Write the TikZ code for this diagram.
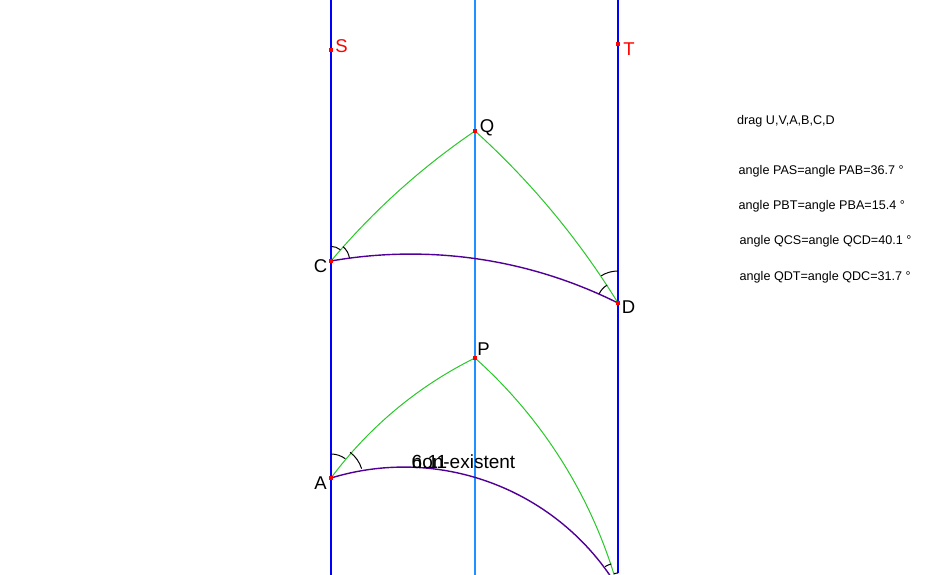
\documentclass[tikz,border=0pt]{standalone}
\usepackage{fontspec}
\setmainfont{Liberation Sans}
\definecolor{midblue}{RGB}{30,144,255}
\definecolor{geogreen}{RGB}{40,200,40}
\definecolor{purp}{RGB}{80,0,150}
\begin{document}
\begin{tikzpicture}[x=1pt,y=-1pt,
  dot/.style={fill=red, inner sep=0pt, minimum size=3.8pt, draw=none, rectangle},
  lbl/.style={font=\fontsize{18.5}{18.5}\selectfont, inner sep=0pt},
  info/.style={font=\fontsize{12.6}{12.6}\selectfont, inner sep=0pt, anchor=base west},
  bigtxt/.style={font=\fontsize{19}{19}\selectfont, inner sep=0pt, anchor=base west},
  bline/.style={blue, line width=1.1pt},
  mline/.style={color=midblue, line width=1.1pt},
  geo/.style={color=geogreen, line width=1pt},
  basecurve/.style={color=purp, line width=1.4pt},
  anglemark/.style={black, line width=1pt}]
\useasboundingbox (0,0) rectangle (932,575);
\fill[white] (0,0) rectangle (932,575);
\begin{scope}
\clip (0,0) rectangle (932,575);
% points
\coordinate (Ltop) at (331,-1);
\coordinate (Lbot) at (331,576);
\coordinate (Mtop) at (475,-1);
\coordinate (Mbot) at (475,576);
\coordinate (Rtop) at (618,-1);
\coordinate (Rbot) at (618,573);
\coordinate (B) at (618,588);
% vertical lines
\draw[bline] (Ltop) -- (Lbot);
\draw[bline] (Rtop) -- (Rbot);
\draw[mline] (Mtop) -- (Mbot);
% dots
\node[dot] (S) at (331,50) {};
\node[dot] (T) at (618,44) {};
\node[dot] (Q) at (475,131) {};
\node[dot] (C) at (331,261) {};
\node[dot] (D) at (618,303) {};
\node[dot] (P) at (475,358) {};
\node[dot] (A) at (331,478) {};
% geodesic arcs
\draw[basecurve] (A.center) arc[start angle=-106.99, end angle=-31.08, radius=249.9];
\draw[geo] (A.center) arc[start angle=-143.35, end angle=-116.27, radius=400.4];
\draw[geo] (P.center) arc[start angle=-48.21, end angle=-15.54, radius=481.5];
\draw[geo] (C.center) arc[start angle=-139.94, end angle=-124.21, radius=708.5];
\draw[geo] (Q.center) arc[start angle=-47.88, end angle=-31.60, radius=790.1];
\draw[basecurve] (C.center) arc[start angle=-99.93, end angle=-63.41, radius=462.9];
% angle marks
\draw[anglemark] (A.center) ++(-90:24) arc[start angle=-90, end angle=-53.35, radius=24];
\draw[anglemark] (A.center) ++(-53.35:32) arc[start angle=-53.35, end angle=-17.0, radius=32];
\draw[anglemark] (C.center) ++(-90:14.6) arc[start angle=-90, end angle=-49.94, radius=14.6];
\draw[anglemark] (C.center) ++(-49.94:18.7) arc[start angle=-49.94, end angle=-9.93, radius=18.7];
\draw[anglemark] (D.center) ++(-90:32) arc[start angle=-90, end angle=-121.6, radius=32];
\draw[anglemark] (D.center) ++(-121.6:21) arc[start angle=-121.6, end angle=-153.41, radius=21];
\draw[anglemark] (B) ++(-90:15) arc[start angle=-90, end angle=-105.54, radius=15];
\draw[anglemark] (B) ++(-105.54:25) arc[start angle=-105.54, end angle=-121.08, radius=25];
% redraw dots on top
\fill[red] (S.south west) rectangle (S.north east);
\fill[red] (T.south west) rectangle (T.north east);
\fill[red] (Q.south west) rectangle (Q.north east);
\fill[red] (C.south west) rectangle (C.north east);
\fill[red] (D.south west) rectangle (D.north east);
\fill[red] (P.south west) rectangle (P.north east);
\fill[red] (A.south west) rectangle (A.north east);
% point labels
\node[lbl, red] (Slbl) at (341.5,46) {S};
\node[lbl, red] (Tlbl) at (629,49) {T};
\node[lbl] (Qlbl) at (487,127.5) {Q};
\node[lbl] (Clbl) at (320.5,266) {C};
\node[lbl] (Dlbl) at (628.5,307.5) {D};
\node[lbl] (Plbl) at (483.5,349) {P};
\node[lbl] (Albl) at (320.5,483) {A};
% overlapping texts
\node[bigtxt] (nonex) at (411.5,468.5) {non-existent};
\node[bigtxt] (num) at (411.5,468.5) {6.11};
% info texts
\node[info] (drag) at (737,124.5) {drag U,V,A,B,C,D};
\node[info] (t1) at (738.5,174.5) {angle PAS=angle PAB=36.7 °};
\node[info] (t2) at (738.5,209.5) {angle PBT=angle PBA=15.4 °};
\node[info] (t3) at (739.5,244.5) {angle QCS=angle QCD=40.1 °};
\node[info] (t4) at (739.5,280) {angle QDT=angle QDC=31.7 °};
\end{scope}
\end{tikzpicture}
\end{document}
